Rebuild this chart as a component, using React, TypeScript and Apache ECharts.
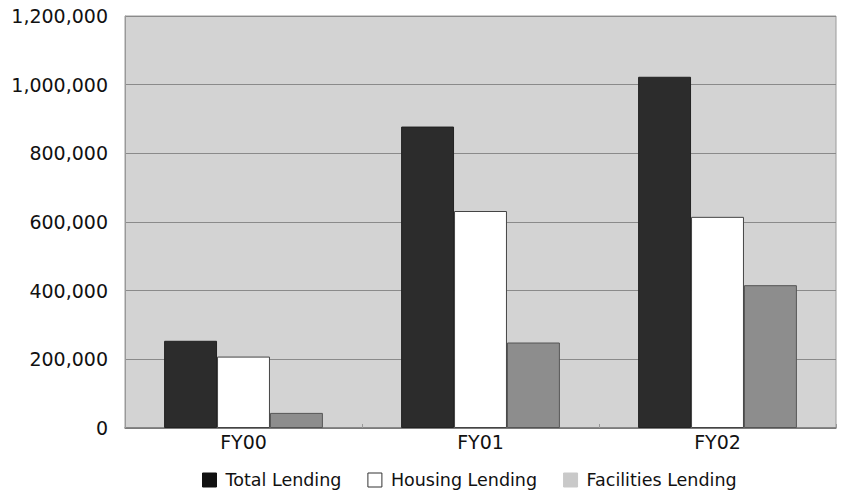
import React, { useEffect, useRef } from "react";
import * as echarts from "echarts";

const categories = ["FY00", "FY01", "FY02"];
const totalLending = [254000, 878000, 1023000];
const housingLending = [208000, 632000, 615000];
const facilitiesLending = [44000, 249000, 416000];
const yTicks = [0, 200000, 400000, 600000, 800000, 1000000, 1200000];

const FONT = "'DejaVu Sans', sans-serif";

export default function App() {
  const ref = useRef<HTMLDivElement>(null);
  useEffect(() => {
    if (!ref.current) return;
    const chart = echarts.init(ref.current, undefined, { renderer: "svg" });
    chart.setOption({
      animation: false,
      backgroundColor: "#ffffff",
      grid: {
        left: 125,
        right: 5,
        top: 16,
        bottom: 66,
        show: true,
        backgroundColor: "#d3d3d3",
        borderColor: "#9a9a9a",
        borderWidth: 1,
      },
      legend: {
        top: 466,
        left: 197,
        padding: 5,
        itemWidth: 14,
        itemHeight: 14,
        itemGap: 26,
        icon: "rect",
        textStyle: { fontFamily: FONT, fontSize: 17.5, color: "#111", padding: [0, 0, 0, 4] },
        data: [
          { name: "Total Lending", itemStyle: { color: "#111111", borderColor: "#111111", borderWidth: 1 } },
          { name: "Housing Lending", itemStyle: { color: "#ffffff", borderColor: "#333333", borderWidth: 1 } },
          { name: "Facilities Lending", itemStyle: { color: "#c9c9c9", borderColor: "#c9c9c9", borderWidth: 1 } },
        ],
      },
      xAxis: {
        type: "category",
        data: categories,
        axisLine: { show: true, lineStyle: { color: "#777", width: 1.5 } },
        axisTick: { show: true, length: 4, inside: true, lineStyle: { color: "#999" } },
        axisLabel: { fontFamily: FONT, fontSize: 19, color: "#111", margin: 4 },
      },
      yAxis: {
        type: "value",
        min: 0,
        max: 1200000,
        interval: 200000,
        axisLine: { show: true, lineStyle: { color: "#999" } },
        axisTick: { show: false },
        splitLine: { show: true, lineStyle: { color: "#8a8a8a", width: 1 } },
        axisLabel: {
          fontFamily: FONT,
          fontSize: 19,
          color: "#111",
          margin: 17,
          formatter: (v: number) => (yTicks.includes(v) ? v.toLocaleString("en-US") : ""),
        },
      },
      series: [
        {
          name: "Total Lending",
          type: "bar",
          data: totalLending,
          barGap: "0%",
          barCategoryGap: "33%",
          itemStyle: { color: "#2c2c2c", borderColor: "#222", borderWidth: 1 },
        },
        {
          name: "Housing Lending",
          type: "bar",
          data: housingLending,
          itemStyle: { color: "#ffffff", borderColor: "#444", borderWidth: 1 },
        },
        {
          name: "Facilities Lending",
          type: "bar",
          data: facilitiesLending,
          itemStyle: { color: "#8d8d8d", borderColor: "#555", borderWidth: 1 },
        },
      ],
    });
    return () => chart.dispose();
  }, []);
  return <div ref={ref} style={{ width: 841, height: 494, position: "fixed", left: 0, top: 0 }} />;
}
